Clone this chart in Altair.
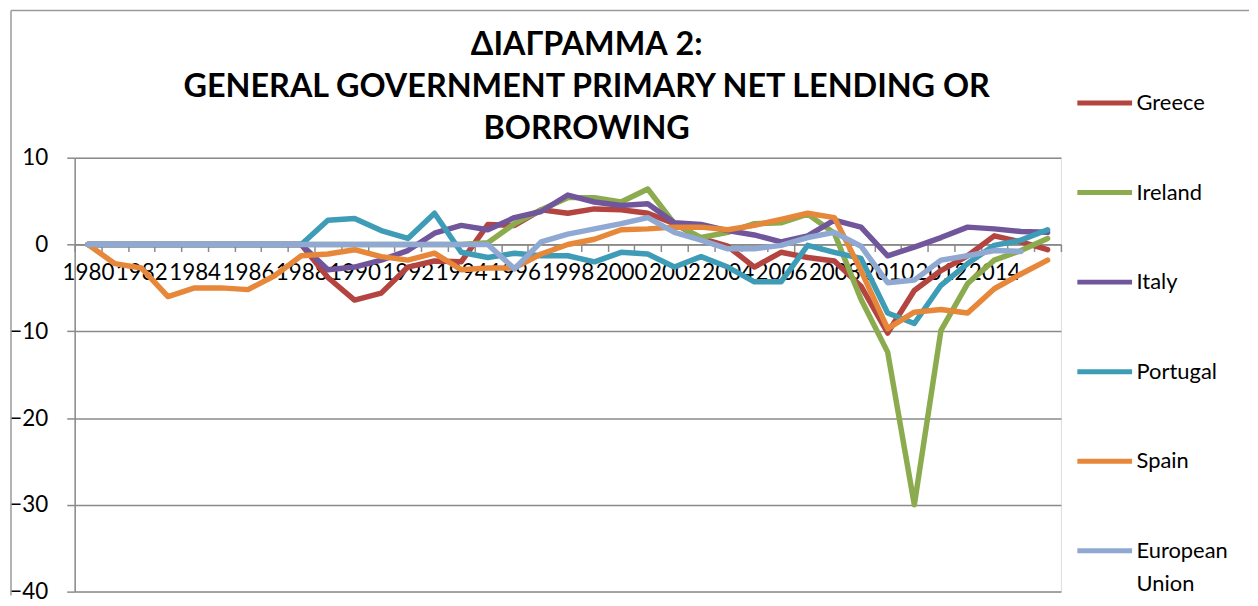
import altair as alt
import pandas as pd

years = [1980, 1981, 1982, 1983, 1984, 1985, 1986, 1987, 1988, 1989,
         1990, 1991, 1992, 1993, 1994, 1995, 1996, 1997, 1998, 1999,
         2000, 2001, 2002, 2003, 2004, 2005, 2006, 2007, 2008, 2009,
         2010, 2011, 2012, 2013, 2014, 2015, 2016]

greece = [0, 0, 0, 0, 0, 0, 0, 0, 0, -3.8,
          -6.4, -5.6, -2.6, -1.9, -2.0, 2.3, 2.2, 4.0, 3.6, 4.1,
          4.0, 3.6, 2.4, 0.7, -0.2, -2.6, -0.9, -1.5, -1.9, -4.8,
          -10.2, -5.3, -3.0, -1.3, 1.0, 0.3, -0.6]
ireland = [0, 0, 0, 0, 0, 0, 0, 0, 0, 0,
           0, 0, 0, 0, 0, 0.2, 2.4, 4.0, 5.4, 5.4,
           4.9, 6.4, 2.4, 0.8, 1.4, 2.4, 2.5, 3.5, 1.3, -6.3,
           -12.4, -30.0, -9.9, -4.5, -1.8, -0.7, 0.7]
italy = [0, 0, 0, 0, 0, 0, 0, 0, 0, -2.9,
         -2.6, -1.8, -0.7, 1.3, 2.2, 1.7, 3.1, 3.8, 5.7, 4.9,
         4.5, 4.7, 2.5, 2.3, 1.6, 1.1, 0.3, 1.0, 2.8, 2.0,
         -1.3, -0.3, 0.8, 2.0, 1.8, 1.5, 1.4]
portugal = [0, 0, 0, 0, 0, 0, 0, 0, 0, 2.8,
            3.0, 1.6, 0.7, 3.6, -0.9, -1.5, -1.0, -1.3, -1.3, -2.0,
            -0.9, -1.1, -2.6, -1.4, -2.6, -4.3, -4.3, -0.1, -0.9, -1.6,
            -7.9, -9.1, -4.7, -2.2, -0.1, 0.5, 1.7]
spain = [0, -2.2, -2.7, -6.0, -5.0, -5.0, -5.2, -3.6, -1.3, -1.1,
         -0.6, -1.4, -1.8, -1.0, -2.9, -2.7, -2.7, -1.1, 0.0, 0.6,
         1.7, 1.8, 2.0, 2.0, 1.7, 2.2, 2.9, 3.6, 3.1, -3.0,
         -9.7, -7.8, -7.5, -7.9, -5.1, -3.4, -1.8]
eu = [0, 0, 0, 0, 0, 0, 0, 0, 0, 0,
      0, 0, 0, 0, 0, 0, -2.8, 0.3, 1.2, 1.8,
      2.4, 3.1, 1.4, 0.5, -0.5, -0.5, -0.1, 0.8, 1.4, -0.2,
      -4.4, -4.1, -1.8, -1.3, -0.7, -0.8, None]

countries = ["Greece", "Ireland", "Italy", "Portugal", "Spain", "European Union"]
series = [greece, ireland, italy, portugal, spain, eu]
colors = ["#B3443F", "#8CAB4E", "#71569B", "#3E9CB6", "#E6873A", "#8FA9D2"]

y_ticks = [-40, -30, -20, -10, 0, 10]
title_lines = ["ΔΙΑΓΡΑΜΜΑ 2:", "GENERAL GOVERNMENT PRIMARY NET LENDING OR", "BORROWING"]

rows = []
for name, vals in zip(countries, series):
    for yr, v in zip(years, vals):
        if v is not None:
            rows.append({"year": yr, "country": name, "value": v})
df = pd.DataFrame(rows)

W, H = 991, 436
ymin, ymax = y_ticks[0], y_ticks[-1]
zero_offset = -H * (0 - ymin) / (ymax - ymin)
gray = "#8a8a8a"
font = "Lato"

lines = alt.Chart(df).mark_line(strokeWidth=5.5, strokeJoin="round", strokeCap="round").encode(
    x=alt.X("year:O",
            scale=alt.Scale(type="band", paddingInner=0, paddingOuter=0),
            axis=alt.Axis(title=None, orient="bottom", offset=zero_offset,
                          tickBand="extent", ticks=True, tickSize=7, tickColor=gray, tickWidth=1.5,
                          domain=True, domainColor=gray, domainWidth=1.5, grid=False,
                          labelExpr="(datum.value % 2 == 0 && datum.value < 2016) ? datum.label : ''",
                          labelAngle=0, labelOverlap=False, labelFontSize=22.5, labelFont=font,
                          labelColor="black", labelPadding=10, labelBaseline="top")),
    y=alt.Y("value:Q",
            scale=alt.Scale(domain=[ymin, ymax], nice=False, zero=False),
            axis=alt.Axis(title=None, values=y_ticks, grid=True, gridColor=gray, gridWidth=1.5,
                          domain=True, domainColor=gray, domainWidth=1.5,
                          ticks=True, tickSize=8, tickColor=gray, tickWidth=1.5,
                          labelFontSize=22.5, labelFont=font, labelColor="black", labelPadding=19,
                          minExtent=64, maxExtent=64)),
    color=alt.Color("country:N",
                    scale=alt.Scale(domain=countries, range=colors),
                    legend=alt.Legend(orient="none", legendX=1005, legendY=-85, title=None,
                                      symbolType="stroke", symbolSize=3025, symbolStrokeWidth=5,
                                      labelFontSize=22, labelFont=font, labelColor="black",
                                      labelOffset=2, rowPadding=49, labelLimit=300,
                                      labelExpr="datum.label == 'European Union' ? ['European', 'Union'] : datum.label")),
)

border = alt.Chart(pd.DataFrame({"k": [0]})).mark_rule(color="#9a9a9a", strokeWidth=1.5).encode(
    x=alt.value(-64), x2=alt.value(1180), y=alt.value(-148)
)
border_left = alt.Chart(pd.DataFrame({"k": [0]})).mark_rule(color="#9a9a9a", strokeWidth=1.5).encode(
    x=alt.value(-64), y=alt.value(-148), y2=alt.value(440)
)

chart = alt.layer(lines, border, border_left).properties(
    width=W, height=H,
    padding={"left": 0, "top": 0, "right": 0, "bottom": 0},
    title=alt.TitleParams(text=title_lines, font=font, fontSize=32.5, fontWeight="bold",
                          lineHeight=42, anchor="middle", dx=19, offset=-136, color="black"),
).configure_view(stroke=None).configure(
    background="white",
    style={"guide-label": {"lineHeight": 33}},
)

chart.save("out.html", embed_options={"renderer": "svg", "actions": False})
